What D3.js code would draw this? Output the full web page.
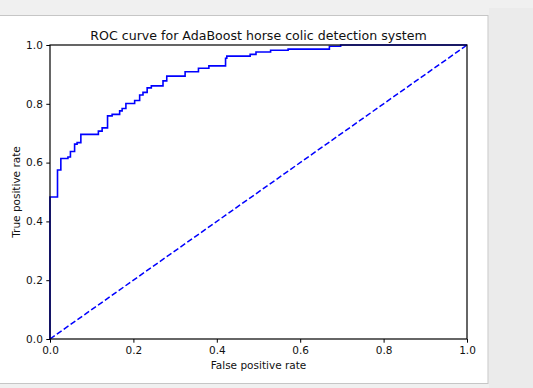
<!DOCTYPE html>
<html>
<head>
<meta charset="utf-8">
<script src="https://cdn.jsdelivr.net/npm/d3@7"></script>
<style>
  body { margin: 0; background: #f0f0f0; }
  svg { display: block; font-family: "DejaVu Sans", sans-serif; }
</style>
</head>
<body>
<svg width="533" height="388"></svg>
<script>
// ROC curve step corners (false positive rate, true positive rate)
const fpr = [0, 0, 0.018, 0.026, 0.043, 0.049, 0.059, 0.065, 0.074, 0.116,
             0.125, 0.138, 0.149, 0.167, 0.173, 0.182, 0.203, 0.215, 0.223, 0.233,
             0.243, 0.271, 0.280, 0.324, 0.356, 0.381, 0.421, 0.424, 0.480, 0.494,
             0.529, 0.571, 0.670, 0.697, 1.0];
const tpr = [0, 0.483, 0.575, 0.614, 0.619, 0.638, 0.663, 0.668, 0.696, 0.707,
             0.718, 0.759, 0.764, 0.776, 0.784, 0.801, 0.811, 0.830, 0.839, 0.854,
             0.861, 0.878, 0.894, 0.909, 0.921, 0.929, 0.955, 0.962, 0.968, 0.976,
             0.982, 0.986, 0.996, 1.0, 1.0];
// random-guess diagonal
const diagonal = [[0, 0], [1, 1]];
const ticks = [0, 0.2, 0.4, 0.6, 0.8, 1.0];

const svg = d3.select("svg");

// window background and figure panel
svg.append("rect").attr("x", 489).attr("y", 8).attr("width", 44).attr("height", 380)
   .attr("fill", "#ebebeb");
svg.append("rect").attr("x", -1).attr("y", 15.5).attr("width", 489).attr("height", 368)
   .attr("fill", "#fff").attr("stroke", "#c6c6c6");

const axLeft = 50, axRight = 467, axTop = 45, axBottom = 339;

const xScale = d3.scaleLinear().domain([0, 1]).range([axLeft, axRight]);
const yScale = d3.scaleLinear().domain([0, 1]).range([axBottom, axTop]);

const xAxis = d3.axisBottom(xScale).tickValues(ticks).tickFormat(d3.format(".1f"))
                .tickSize(3.7).tickPadding(3.5);
const yAxis = d3.axisLeft(yScale).tickValues(ticks).tickFormat(d3.format(".1f"))
                .tickSize(3.7).tickPadding(3.5);

const gx = svg.append("g").attr("transform", `translate(0,${axBottom})`).call(xAxis);
const gy = svg.append("g").attr("transform", `translate(${axLeft},0)`).call(yAxis);
[gx, gy].forEach(g => {
  g.select(".domain").remove();
  g.selectAll("text").style("font-size", "10.5px").attr("fill", "#111")
   .style("font-family", "DejaVu Sans");
  g.selectAll("line").attr("stroke", "#000");
});

// diagonal, dashed
svg.append("path")
   .datum(diagonal)
   .attr("d", d3.line().x(d => xScale(d[0])).y(d => yScale(d[1])))
   .attr("fill", "none")
   .attr("stroke", "#0000ff")
   .attr("stroke-width", 1.5)
   .attr("stroke-dasharray", "5.8,2.6");

// ROC step curve
const points = fpr.map((f, i) => [f, tpr[i]]);
svg.append("path")
   .datum(points)
   .attr("d", d3.line().x(d => xScale(d[0])).y(d => yScale(d[1])).curve(d3.curveStepAfter))
   .attr("fill", "none")
   .attr("stroke", "#0000ff")
   .attr("stroke-width", 1.6);

// axes frame
svg.append("rect")
   .attr("x", axLeft).attr("y", axTop)
   .attr("width", axRight - axLeft).attr("height", axBottom - axTop)
   .attr("fill", "none").attr("stroke", "#000").attr("stroke-width", 1.2);

// Title
svg.append("text")
   .text("ROC curve for AdaBoost horse colic detection system")
   .attr("x", (axLeft + axRight) / 2)
   .attr("y", 40)
   .style("text-anchor", "middle")
   .style("font-size", "12.6px")
   .attr("fill", "#111");

// X-axis label
svg.append("text")
   .text("False positive rate")
   .attr("x", (axLeft + axRight) / 2)
   .attr("y", 368.5)
   .style("text-anchor", "middle")
   .style("font-size", "10.5px")
   .attr("fill", "#111");

// Y-axis label
svg.append("text")
   .text("True positive rate")
   .attr("x", -(axTop + axBottom) / 2)
   .attr("y", 19.5)
   .attr("transform", "rotate(-90)")
   .style("text-anchor", "middle")
   .style("font-size", "10.5px")
   .attr("fill", "#111");
</script>
</body>
</html>
